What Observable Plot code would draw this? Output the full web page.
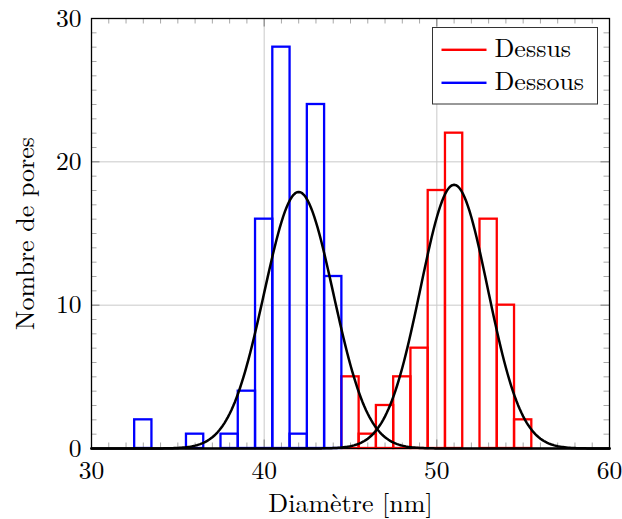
<!DOCTYPE html>
<html>
<head>
<meta charset="utf-8">
<script src="https://cdn.jsdelivr.net/npm/d3@7"></script>
<script src="https://cdn.jsdelivr.net/npm/@observablehq/plot@0.6"></script>
<style>
  html, body { margin: 0; padding: 0; background: white; }
</style>
</head>
<body>
<div id="chart"></div>
<script>
// ---- data ----
const seriesNames = ["Dessus", "Dessous"];
const seriesColors = ["#ff0000", "#0000ff"];

// histogram bins (bin centres, width 1 nm) and counts
const dessusCenters = [45, 46, 47, 48, 49, 50, 51, 52, 53, 54, 55];
const dessusCounts  = [5, 1, 3, 5, 7, 18, 22, 0, 16, 10, 2];
const dessousCenters = [33, 34, 35, 36, 37, 38, 39, 40, 41, 42, 43, 44];
const dessousCounts  = [2, 0, 0, 1, 0, 1, 4, 16, 28, 1, 24, 12];

// fitted gaussian curves (mean, sigma, peak height)
const fitMeans  = [51.0, 42.0];
const fitSigmas = [1.95, 2.0];
const fitPeaks  = [18.4, 17.9];

// axes
const xMajor = [30, 40, 50, 60];
const yMajor = [0, 10, 20, 30];
const xGrid = [40, 50];
const yGrid = [10, 20];
const xLabel = "Diamètre [nm]";
const yLabel = "Nombre de pores";

// ---- build tables ----
const bins = [
  ...dessusCenters.map((c, i) => ({series: seriesNames[0], c, n: dessusCounts[i]})),
  ...dessousCenters.map((c, i) => ({series: seriesNames[1], c, n: dessousCounts[i]}))
];
const xs = d3.range(30, 60.0001, 0.1);
const fits = fitMeans.flatMap((m, k) =>
  xs.map(x => ({k, x, y: fitPeaks[k] * Math.exp(-((x - m) ** 2) / (2 * fitSigmas[k] ** 2))}))
);
const xMinor = d3.range(30, 61).filter(v => !xMajor.includes(v));
const yMinor = d3.range(0, 31).filter(v => !yMajor.includes(v));

const W = 622, H = 519, ML = 91, MR = 13, MT = 18, MB = 71;
const PW = W - ML - MR, PH = H - MT - MB;
const minorLen = 5.5, majorLen = 8.5;

const font = '"Latin Modern Roman", "Liberation Serif", serif';

const chart = Plot.plot({
  width: W, height: H,
  marginLeft: ML, marginRight: MR, marginTop: MT, marginBottom: MB,
  x: {domain: [30, 60]},
  y: {domain: [0, 30]},
  color: {domain: seriesNames, range: seriesColors},
  style: {fontSize: "25px", background: "white", color: "black"},
  marks: [
    Plot.gridX(xGrid, {stroke: "#c9c9c9", strokeOpacity: 1, strokeWidth: 1}),
    Plot.gridY(yGrid, {stroke: "#c9c9c9", strokeOpacity: 1, strokeWidth: 1}),
    // ticks inside the frame on all sides
    Plot.ruleX(xMinor, {insetTop: PH - minorLen, stroke: "#a8a8a8", strokeWidth: 1}),
    Plot.ruleX(xMinor, {insetBottom: PH - minorLen, stroke: "#a8a8a8", strokeWidth: 1}),
    Plot.ruleY(yMinor, {insetRight: PW - minorLen, stroke: "#a8a8a8", strokeWidth: 1}),
    Plot.ruleY(yMinor, {insetLeft: PW - minorLen, stroke: "#a8a8a8", strokeWidth: 1}),
    Plot.ruleX(xMajor, {insetTop: PH - majorLen, stroke: "#7a7a7a", strokeWidth: 1}),
    Plot.ruleX(xMajor, {insetBottom: PH - majorLen, stroke: "#7a7a7a", strokeWidth: 1}),
    Plot.ruleY(yMajor, {insetRight: PW - majorLen, stroke: "#7a7a7a", strokeWidth: 1}),
    Plot.ruleY(yMajor, {insetLeft: PW - majorLen, stroke: "#7a7a7a", strokeWidth: 1}),
    // histograms
    Plot.rectY(bins, {
      x1: d => d.c - 0.5, x2: d => d.c + 0.5, y1: 0, y2: d => d.n,
      stroke: d => d.series, fill: "none", strokeWidth: 2.3
    }),
    // gaussian fits
    Plot.line(fits, {x: "x", y: "y", z: "k", stroke: "black", strokeWidth: 2.5}),
    Plot.frame({stroke: "black", strokeWidth: 1.3}),
    // axes labels
    Plot.axisX(xMajor, {tickSize: 0, tickPadding: 12, fontSize: 25.5, label: null}),
    Plot.axisY(yMajor, {tickSize: 0, tickPadding: 10, fontSize: 25.5, label: null}),
    Plot.text([xLabel], {text: d => d, frameAnchor: "bottom", dy: 63, lineAnchor: "bottom", fontSize: 26}),
    Plot.text([yLabel], {text: d => d, frameAnchor: "left", dx: -58, rotate: -90, textAnchor: "middle", lineAnchor: "bottom", fontSize: 26}),
    // legend
    Plot.frame({insetLeft: 341, insetRight: 12, insetTop: 9, insetBottom: 344.5, fill: "white", stroke: "#333", strokeWidth: 1}),
    Plot.frame({insetLeft: 350, insetRight: 123, insetTop: 30.1, insetBottom: 397.5, fill: seriesColors[0], stroke: "none"}),
    Plot.frame({insetLeft: 350, insetRight: 123, insetTop: 63.1, insetBottom: 364.5, fill: seriesColors[1], stroke: "none"}),
    Plot.text([seriesNames[0]], {text: d => d, frameAnchor: "top-left", dx: 403, dy: 38.7, textAnchor: "start", lineAnchor: "bottom", fontSize: 26}),
    Plot.text([seriesNames[1]], {text: d => d, frameAnchor: "top-left", dx: 403, dy: 71.5, textAnchor: "start", lineAnchor: "bottom", fontSize: 26})
  ]
});
// force the serif (Computer Modern-like) font on every text element
chart.setAttribute("font-family", font);
d3.select(chart).selectAll("g, text").attr("font-family", null).style("font-family", font);
chart.style.fontFamily = font;
document.getElementById("chart").appendChild(chart);
</script>
</body>
</html>
